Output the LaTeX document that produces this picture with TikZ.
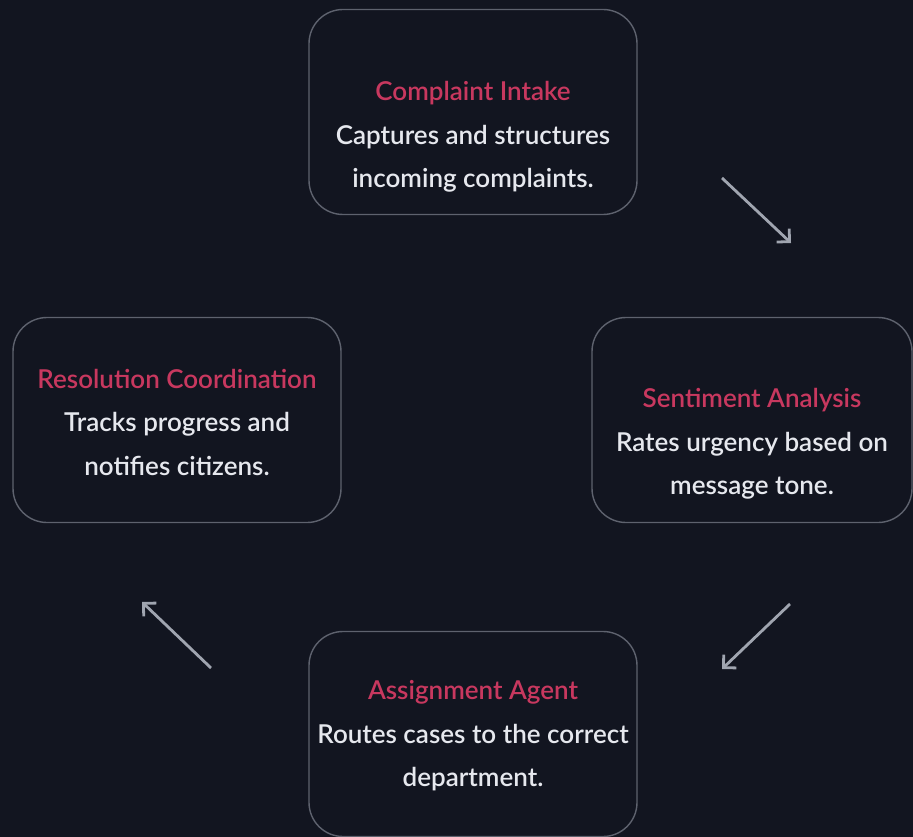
\documentclass[tikz,border=0pt]{standalone}
\usepackage{fontspec}
\setmainfont{Lato}[UprightFont={* Semibold}]
\usetikzlibrary{arrows.meta}
\definecolor{bgcol}{HTML}{121520}
\definecolor{boxline}{HTML}{5E626E}
\definecolor{titlecol}{HTML}{C8385F}
\definecolor{bodycol}{HTML}{E6E8EE}
\definecolor{arrowcol}{HTML}{A0A5B0}
\begin{document}
\begin{tikzpicture}[x=1pt,y=-1pt]
    \useasboundingbox (0,0) rectangle (913,837);
    \clip (0,0) rectangle (913,837);
    \fill[bgcol] (0,0) rectangle (913,837);

    \begin{scope}
      \tikzstyle{every node}=[draw=boxline,line width=1.4pt,rounded corners=34pt,minimum width=328pt,minimum height=205pt,inner sep=0pt]
      \node (intake)     at (473,112) {};
      \node[minimum width=320pt] (sentiment)  at (752,420) {};
      \node (resolution) at (177,420) {};
      \node (assign)     at (473,734) {};
    \end{scope}

    \begin{scope}[font=\fontsize{26}{43.5}\selectfont]
      \tikzstyle{every node}=[align=center,text=bodycol]
      \node (intaketxt)     at ([yshift=-25pt]intake.center)  {\textcolor{titlecol}{Complaint Intake}\\Captures and structures\\incoming complaints.};
      \node (sentimenttxt)  at ([yshift=-24pt]sentiment.center) {\textcolor{titlecol}{Sentiment Analysis}\\Rates urgency based on\\message tone.};
      \node (resolutiontxt) at ([yshift=-2pt]resolution.center) {\textcolor{titlecol}{Resolution Coordination}\\Tracks progress and\\notifies citizens.};
      \node (assigntxt)     at ([yshift=-2pt]assign.center) {\textcolor{titlecol}{Assignment Agent}\\Routes cases to the correct\\department.};
    \end{scope}

    % flow arrows between the boxes
    \coordinate (a1) at (722,178);  \coordinate (b1) at (791,243);
    \coordinate (a2) at (790,604);  \coordinate (b2) at (722,669);
    \coordinate (a3) at (211,668);  \coordinate (b3) at (142,602);
    \tikzset{flow/.style={arrowcol,line width=2.8pt,-{Straight Barb[angle=90:13pt,line cap=butt]}}}
    \draw[flow] (a1) -- (b1);
    \draw[flow] (a2) -- (b2);
    \draw[flow] (a3) -- (b3);
\end{tikzpicture}
\end{document}
